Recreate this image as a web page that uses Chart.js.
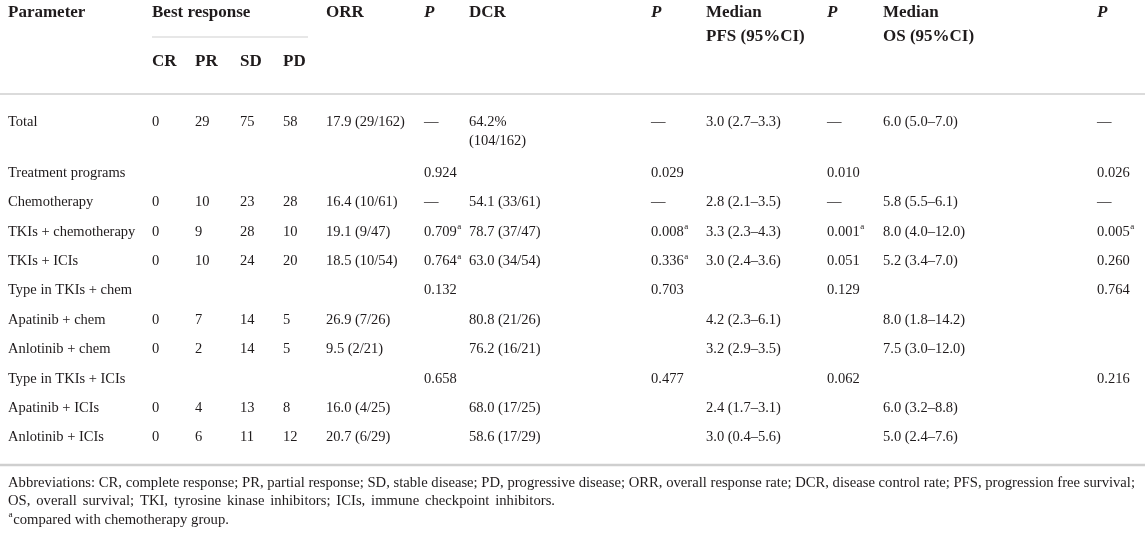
<!DOCTYPE html>
<html>
<head>
<meta charset="utf-8">
<script src="https://cdn.jsdelivr.net/npm/chart.js@4.4.1/dist/chart.umd.min.js"></script>
<style>
  html, body { margin: 0; padding: 0; background: #ffffff; }
  #wrap { width: 1145px; height: 533px; }
</style>
</head>
<body>
<div id="wrap"><canvas id="tableChart" width="1145" height="533"></canvas></div>
<script>
// Table data, one array per column
const rowLabels = ['Total', 'Treatment programs', 'Chemotherapy', 'TKIs + chemotherapy', 'TKIs + ICIs',
    'Type in TKIs + chem', 'Apatinib + chem', 'Anlotinib + chem', 'Type in TKIs + ICIs',
    'Apatinib + ICIs', 'Anlotinib + ICIs'];
const crValues = ['0', '', '0', '0', '0', '', '0', '0', '', '0', '0'];
const prValues = ['29', '', '10', '9', '10', '', '7', '2', '', '4', '6'];
const sdValues = ['75', '', '23', '28', '24', '', '14', '14', '', '13', '11'];
const pdValues = ['58', '', '28', '10', '20', '', '5', '5', '', '8', '12'];
const orrValues = ['17.9 (29/162)', '', '16.4 (10/61)', '19.1 (9/47)', '18.5 (10/54)', '',
    '26.9 (7/26)', '9.5 (2/21)', '', '16.0 (4/25)', '20.7 (6/29)'];
const orrP = ['—', '0.924', '—', '0.709^a', '0.764^a', '0.132', '', '', '0.658', '', ''];
const dcrValues = ['64.2%\n(104/162)', '', '54.1 (33/61)', '78.7 (37/47)', '63.0 (34/54)', '',
    '80.8 (21/26)', '76.2 (16/21)', '', '68.0 (17/25)', '58.6 (17/29)'];
const dcrP = ['—', '0.029', '—', '0.008^a', '0.336^a', '0.703', '', '', '0.477', '', ''];
const pfsValues = ['3.0 (2.7–3.3)', '', '2.8 (2.1–3.5)', '3.3 (2.3–4.3)', '3.0 (2.4–3.6)', '',
    '4.2 (2.3–6.1)', '3.2 (2.9–3.5)', '', '2.4 (1.7–3.1)', '3.0 (0.4–5.6)'];
const pfsP = ['—', '0.010', '—', '0.001^a', '0.051', '0.129', '', '', '0.062', '', ''];
const osValues = ['6.0 (5.0–7.0)', '', '5.8 (5.5–6.1)', '8.0 (4.0–12.0)', '5.2 (3.4–7.0)', '',
    '8.0 (1.8–14.2)', '7.5 (3.0–12.0)', '', '6.0 (3.2–8.8)', '5.0 (2.4–7.6)'];
const osP = ['—', '0.026', '—', '0.005^a', '0.260', '0.764', '', '', '0.216', '', ''];

const headerTop = ['Parameter', 'Best response', 'ORR', 'P', 'DCR', 'P', 'Median\nPFS (95%CI)', 'P', 'Median\nOS (95%CI)', 'P'];
const headerSub = ['CR', 'PR', 'SD', 'PD'];
const footnotes = [
    'Abbreviations: CR, complete response; PR, partial response; SD, stable disease; PD, progressive disease; ORR, overall response rate; DCR, disease control rate; PFS, progression free survival;',
    'OS, overall survival; TKI, tyrosine kinase inhibitors; ICIs, immune checkpoint inhibitors.',
    '^acompared with chemotherapy group.'
];

// Layout (scale units = pixels of the 1145x533 canvas)
const columns = [rowLabels, crValues, prValues, sdValues, pdValues, orrValues, orrP,
    dcrValues, dcrP, pfsValues, pfsP, osValues, osP];
const colX = [8, 152, 195, 240, 283, 326, 424, 469, 651, 706, 827, 883, 1097];
const headerTopX = [8, 152, 326, 424, 469, 651, 706, 827, 883, 1097];
const rowY = [122, 173, 202.4, 231.8, 261.2, 290.6, 320, 349.4, 378.8, 408.2, 437.6];
const footFit = [1127, 547, 0];   // justified width of each footnote line (0 = natural)

const FONT = '"Liberation Serif", "DejaVu Serif", serif';
const TEXT_COLOR = '#1f1b1c';
const RULE_COLOR = '#cfcfcf';

// Build anchor points for every cell
const bodyCells = [];
columns.forEach((col, c) => {
    col.forEach((txt, r) => {
        if (txt !== '') bodyCells.push({ x: colX[c], y: rowY[r], text: txt });
    });
});
const headCells = headerTop.map((txt, i) => ({ x: headerTopX[i], y: 13, text: txt, italic: txt === 'P' }));
headerSub.forEach((txt, i) => headCells.push({ x: colX[i + 1], y: 62, text: txt }));
const footCells = footnotes.map((txt, i) => ({ x: 8, y: 483 + i * 18.5, text: txt, fit: footFit[i] }));

function rule(x1, x2, y) {
    return [{ x: x1, y: y }, { x: x2, y: y }];
}

// Draws text with optional ^a superscript
function drawRich(ctx, text, x, y, font, supFont) {
    const parts = text.split('^');
    ctx.font = font;
    ctx.fillText(parts[0], x, y);
    let cx = x + ctx.measureText(parts[0]).width;
    if (parts.length > 1) {
        const sup = parts[1].charAt(0);
        const rest = parts[1].slice(1);
        ctx.font = supFont;
        ctx.fillText(sup, cx + 0.5, y - 5);
        cx += ctx.measureText(sup).width + 1;
        ctx.font = font;
        ctx.fillText(rest, cx, y);
    }
}

const cellTextPlugin = {
    id: 'cellText',
    afterDatasetsDraw(chart) {
        const ctx = chart.ctx;
        chart.data.datasets.forEach((ds, i) => {
            if (!ds.cellStyle) return;
            const meta = chart.getDatasetMeta(i);
            const st = ds.cellStyle;
            ctx.save();
            ctx.fillStyle = TEXT_COLOR;
            ctx.textBaseline = 'middle';
            ctx.textAlign = 'left';
            meta.data.forEach((el, j) => {
                const cell = ds.data[j];
                const font = (cell.italic ? 'italic ' : '') + st.weight + ' ' + st.size + 'px ' + FONT;
                const supFont = st.weight + ' ' + Math.round(st.size * 0.62) + 'px ' + FONT;
                const lines = cell.text.split('\n');
                lines.forEach((line, k) => {
                    const ly = el.y + k * st.lineHeight;
                    if (st.condensed) {
                        // footnote is set in a condensed face: squeeze to the first line's width
                        ctx.font = font;
                        const sx = footFit[0] / ctx.measureText(footnotes[0]).width;
                        ctx.save();
                        ctx.translate(el.x, ly);
                        ctx.scale(sx, 1);
                        if (cell.fit) {
                            const natural = ctx.measureText(line).width * sx;
                            const gaps = line.split(' ').length - 1;
                            const extra = gaps > 0 ? (cell.fit - natural) / gaps / sx : 0;
                            ctx.wordSpacing = Math.max(0, extra) + 'px';
                        }
                        drawRich(ctx, line, 0, 0, font, supFont);
                        ctx.restore();
                    } else {
                        drawRich(ctx, line, el.x, ly, font, supFont);
                    }
                });
            });
            ctx.restore();
        });
    }
};

const ruleStyle = { type: 'line', borderColor: RULE_COLOR, pointRadius: 0, fill: false, tension: 0 };

new Chart(document.getElementById('tableChart').getContext('2d'), {
    type: 'scatter',
    data: {
        datasets: [
            Object.assign({ data: rule(152, 308, 37), borderWidth: 1.2 }, ruleStyle),
            Object.assign({ data: rule(0, 1145, 94), borderWidth: 1.5 }, ruleStyle),
            Object.assign({ data: rule(0, 1145, 465), borderWidth: 2.5 }, ruleStyle),
            { data: headCells, pointRadius: 0, cellStyle: { size: 17, weight: 'bold', lineHeight: 24 } },
            { data: bodyCells, pointRadius: 0, cellStyle: { size: 14.5, weight: 'normal', lineHeight: 19 } },
            { data: footCells, pointRadius: 0, cellStyle: { size: 14, weight: 'normal', lineHeight: 18, condensed: true } }
        ]
    },
    options: {
        responsive: false,
        animation: false,
        events: [],
        layout: { padding: 0 },
        scales: {
            x: { type: 'linear', min: 0, max: 1145, display: false },
            y: { type: 'linear', min: 0, max: 533, reverse: true, display: false }
        },
        plugins: {
            legend: { display: false },
            tooltip: { enabled: false }
        }
    },
    plugins: [cellTextPlugin]
});
</script>
</body>
</html>
